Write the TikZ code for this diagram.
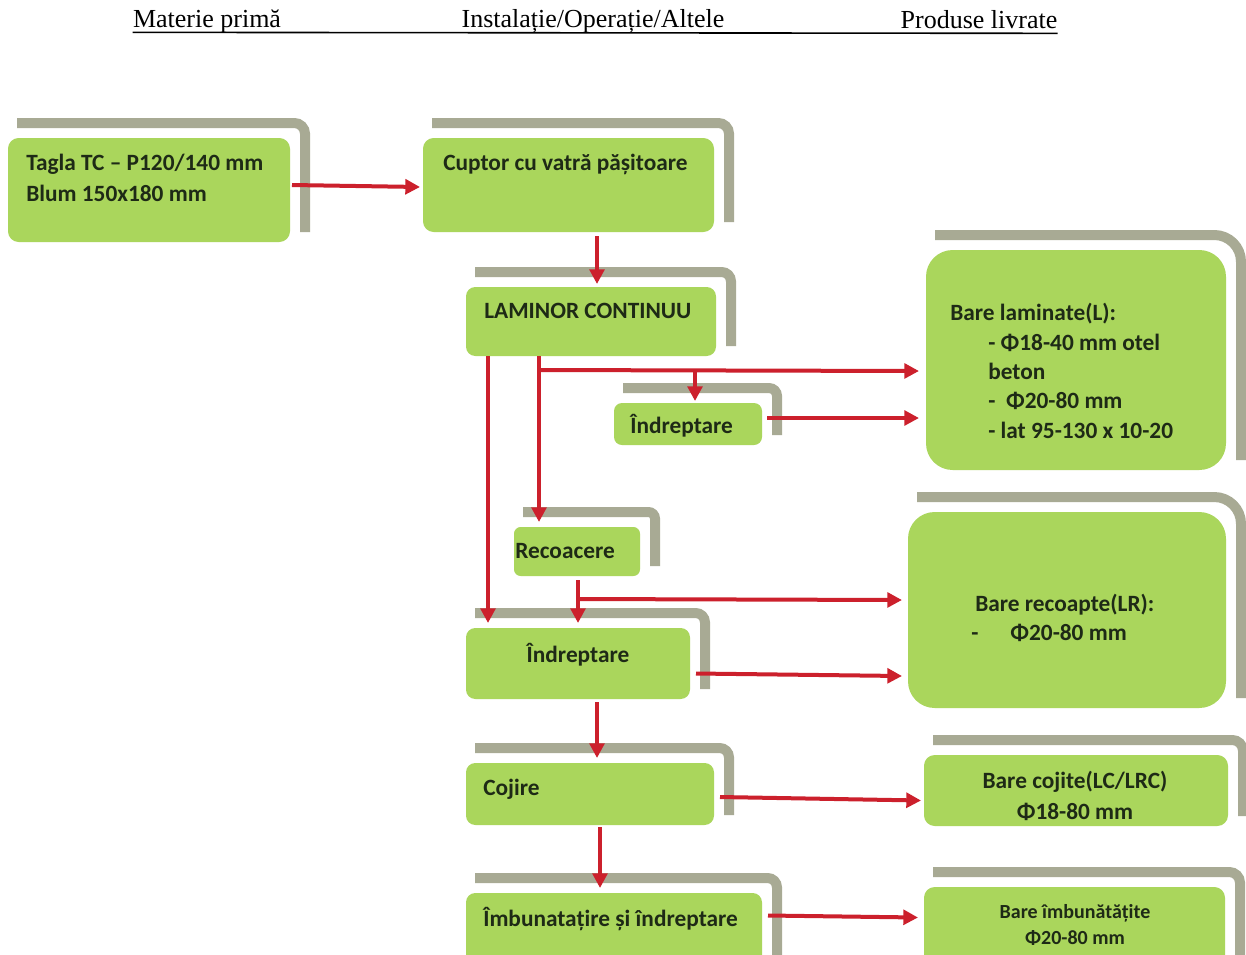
\documentclass[tikz,border=0pt]{standalone}
\usepackage{fontspec}
\setmainfont{Carlito}
\newfontfamily\headfont{Liberation Serif}
\usetikzlibrary{arrows.meta,calc}
\definecolor{boxgreen}{RGB}{170,214,92}
\definecolor{bandgray}{RGB}{168,170,148}
\definecolor{flowred}{RGB}{204,32,44}
\definecolor{txt}{RGB}{30,42,22}
\tikzset{
  greenbox/.style={fill=boxgreen, draw=none, inner sep=0pt, outer sep=0pt},
  band/.style={draw=bandgray, line width=7.5pt},
  lbl/.style={font=\bfseries\fontsize{17.5}{23}\selectfont, text=txt, inner sep=0pt, anchor=west},
  flow/.style={draw=flowred, line width=3pt, -{Triangle[length=11pt,width=11pt]}},
  hdr/.style={font=\headfont\fontsize{19.5}{22}\selectfont, inner sep=0pt, anchor=base},
  hdrline/.style={draw=black, line width=1.2pt}
}
% name, x1, y1, x2, y2, radius
\newcommand\procbox[6]{%
  \draw[band, rounded corners=#6] ({#2+9},{#3-15}) -- ({#4+15},{#3-15}) -- ({#4+15},{#5-10});
  \node[greenbox, rounded corners=#6, minimum width={(#4-#2)*0.75pt}, minimum height={(#5-#3)*0.75pt}] (#1) at ({(#2+#4)/2},{(#3+#5)/2}) {};
}
\begin{document}
\begin{tikzpicture}[x=0.75pt,y=-0.75pt]
\clip (0,0) rectangle (1246,954);
\fill[white] (0,0) rectangle (1246,954);

% header
\node[hdr] (h1) at (207,27) {Materie primă};
\node[hdr] (h2) at (593,27) {Instalație/Operație/Altele};
\node[hdr] (h3) at (979,28) {Produse livrate};
\draw[hdrline] ([yshift=-4pt]h1.base west) -- ([yshift=-4pt]h3.base east);

% boxes
\procbox{tagla}{8}{138}{290}{242}{8pt}
\procbox{cuptor}{423}{138}{714}{232}{8pt}
\procbox{lam}{466}{287}{716}{356}{7pt}
\procbox{indrA}{614}{403}{762}{445}{6pt}
\procbox{barel}{926}{250}{1226}{470}{20pt}
\procbox{rec}{514}{527}{640}{576}{5pt}
\procbox{indrB}{466}{628}{690}{699}{7pt}
\procbox{barer}{908}{512}{1226}{708}{20pt}
\procbox{cojire}{466}{763}{714}{825}{7pt}
\procbox{barec}{924}{755}{1228}{826}{8pt}
\procbox{imb}{466}{893}{762}{970}{7pt}
\procbox{barei}{924}{887}{1225}{970}{8pt}

% texts
\node[lbl, align=left] (t-tagla) at (26,178) {Tagla TC – P120/140 mm\\Blum 150x180 mm};
\node[lbl] (t-cuptor) at (443,164) {Cuptor cu vatră pășitoare};
\node[lbl] (t-lam) at (484,311) {LAMINOR CONTINUU};
\node[lbl] (t-indrA) at (630,426) {Îndreptare};
\node[lbl, align=left, font=\bfseries\fontsize{17.5}{22}\selectfont] (t-barel) at (950,371)
  {Bare laminate(L):\\
   \hspace*{28.5pt}- Φ18-40 mm otel\\
   \hspace*{28.5pt}beton\\
   \hspace*{28.5pt}-\hspace{8pt}Φ20-80 mm\\
   \hspace*{28.5pt}- lat 95-130 x 10-20};
\node[lbl] (t-rec) at (515,551) {Recoacere};
\node[lbl, anchor=center] (t-indrB) at (578,655) {Îndreptare};
\node[lbl, align=left, font=\bfseries\fontsize{17.5}{22}\selectfont] (t-barer) at (971,618)
  {\hspace*{3pt}Bare recoapte(LR):\\
   -\hspace{24pt}Φ20-80 mm};
\node[lbl] (t-cojire) at (483,789) {Cojire};
\node[lbl, anchor=center, align=center] (t-barec) at (1075,796) {Bare cojite(LC/LRC)\\Φ18-80 mm};
\node[lbl] (t-imb) at (483,919) {Îmbunatațire și îndreptare};
\node[lbl, anchor=center, align=center, font=\bfseries\fontsize{15}{20}\selectfont] (t-barei) at (1075,925) {Bare îmbunătățite\\Φ20-80 mm};

% junction coordinates
\coordinate (lamA) at ($(lam.south west)+(22,0)$);
\coordinate (lamB) at ($(lam.south west)+(73,0)$);
\coordinate (j1) at ($(lamB)+(0,14)$);
\coordinate (indrAtop) at ($(indrA.north west)+(81,-2)$);
\coordinate (recout) at ($(rec.south west)+(64,4)$);
\coordinate (j2) at ($(recout)+(0,19)$);

% connectors
\draw[flow] ($(tagla.east)+(2,-5)$) -- ($(cuptor.west)+(-3,2)$);
\draw[flow] ($(cuptor.south)+(28.5,4)$) -- ($(lam.north)+(6,-3)$);
\draw[flow] (lamA) -- ($(indrB.north west)+(22,-5)$);
\draw[flow] (lamB) -- ($(rec.north west)+(25,-5)$);
\draw[flow] (j1) -- ($(barel.west)+(-7,11)$);
\draw[flow] (j1 -| indrAtop) -- (indrAtop);
\draw[flow] ($(indrA.east)+(5,-6)$) -- ($(barel.west)+(-7,58)$);
\draw[flow] (recout) -- ($(indrB.north west)+(112,-5)$);
\draw[flow] (j2) -- ($(barer.west)+(-6,-10)$);
\draw[flow] ($(indrB.east)+(6,10)$) -- ($(barer.west)+(-6,66)$);
\draw[flow] ($(indrB.south)+(19,3)$) -- ($(cojire.north)+(7,-5)$);
\draw[flow] ($(cojire.east)+(6,3)$) -- ($(barec.west)+(-3,10)$);
\draw[flow] ($(cojire.south)+(10,2)$) -- ($(imb.north)+(-14,-5)$);
\draw[flow] ($(imb.east)+(6,-16)$) -- ($(barei.west)+(-6,-11)$);
\end{tikzpicture}
\end{document}
